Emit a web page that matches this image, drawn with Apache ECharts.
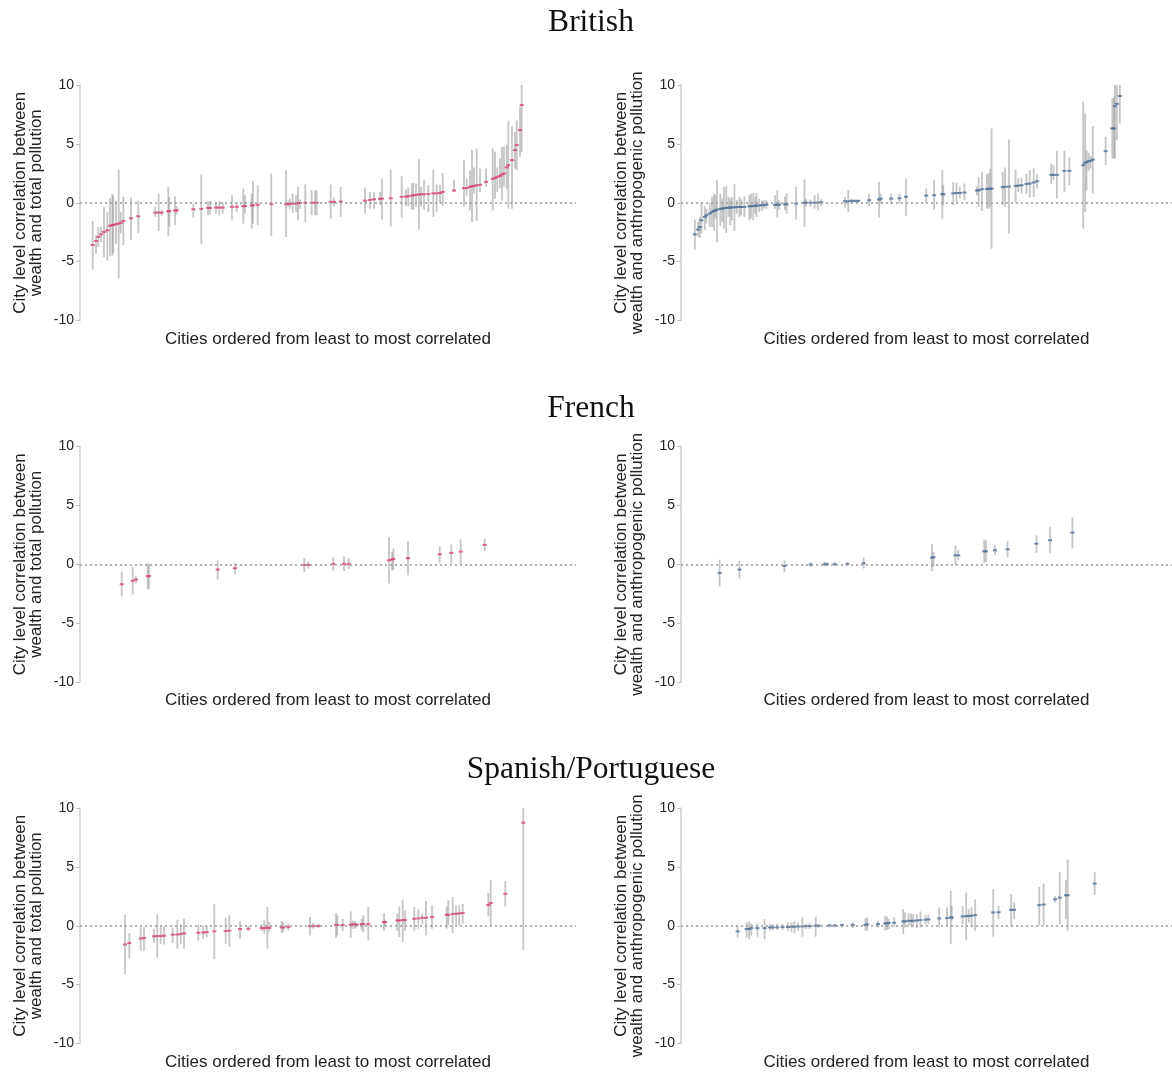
<!DOCTYPE html>
<html>
<head>
<meta charset="utf-8">
<script src="https://cdn.jsdelivr.net/npm/echarts@6/dist/echarts.min.js"></script>
<style>html,body{margin:0;padding:0;background:#fff;}#chart{width:1172px;height:1072px;}</style>
</head>
<body>
<div id="chart"></div>
<script>
// Each entry: [city position along the ordered axis, estimate, lower bound, upper bound]
const britishTotal = [
[12.7,-3.59,-5.66,-1.55],[16,-3.25,-4.33,-2.77],[18.3,-2.9,-3.76,-2.06],[21,-2.68,-3.33,-2.06],
[24,-2.48,-4.61,-0.35],[27.3,-2.34,-4.89,-0.78],[30,-1.95,-4.5,0.4],[32.3,-1.9,-4.5,0.75],
[33.3,-1.88,-4.3,0.6],[36,-1.82,-3.5,0.2],[38.7,-1.77,-6.45,2.82],[40.7,-1.72,-2.6,-0.8],
[43.3,-1.55,-3.6,0.5],[51,-1.32,-3.14,0.44],[58.3,-1.15,-2.57,0.2],[75.3,-0.84,-1.2,-0.35],
[78.7,-0.84,-2.4,0.78],[81.7,-0.84,-1.1,-0.6],[88.3,-0.72,-2.85,1.35],[89.3,-0.7,-2.05,0.5],
[95,-0.67,-1.9,0.55],[96.7,-0.64,-1.0,-0.3],[113.3,-0.55,-1.26,-0.07],[121.3,-0.52,-3.48,2.4],
[128,-0.44,-1.06,0.15],[130,-0.44,-0.98,0.15],[136,-0.41,-0.92,0.07],[139.3,-0.41,-1.06,0.15],
[142.7,-0.41,-0.92,0.07],[152,-0.35,-1.43,0.64],[156.7,-0.35,-0.78,0.07],[163.3,-0.3,-1.77,1.2],
[165,-0.28,-0.92,0.64],[171.7,-0.24,-2.2,0.78],[173,-0.21,-1.77,1.86],[177.7,-0.18,-1.91,1.49],
[191.3,-0.13,-2.85,2.48],[206,-0.13,-2.9,2.77],[208.3,-0.1,-0.35,0.2],[210,-0.1,-0.5,0.35],
[212.7,-0.07,-0.86,0.78],[216,-0.07,-0.78,0.64],[218,-0.02,-1.48,1.35],[220,-0.02,-0.5,0.3],
[225.3,0,-1.63,1.57],[231.7,0,-1.06,1.06],[235,0,-1.06,1.06],[236.7,0,-1.06,1.06],
[250.7,0.07,-1.35,1.55],[254,0.07,-0.3,0.44],[260.7,0.1,-1.2,1.35],[285,0.18,-0.92,1.29],
[290,0.24,-0.5,0.92],[294,0.3,-0.5,0.92],[300,0.33,-0.2,0.92],[302,0.35,-1.43,2.06],
[310.7,0.38,-2.0,2.82],[321.7,0.5,-1.26,2.28],[326,0.52,-0.3,1.15],[328.3,0.55,-0.3,1.3],
[331.7,0.61,-0.58,1.63],[333.3,0.63,-0.58,1.69],[336,0.67,-0.35,1.63],[339,0.7,-2.28,3.7],
[341,0.72,-0.35,1.35],[344,0.72,-0.58,1.91],[348.3,0.75,-0.78,1.49],[353.3,0.8,-1.2,2.82],
[356.7,0.8,-0.78,1.57],[360,0.83,0,1.5],[362.7,0.92,-0.3,2.54],[374,1.04,0.9,1.95],
[384,1.23,-0.35,3.6],[386.7,1.25,0.6,2.05],[390,1.35,-0.64,2.77],[392,1.4,-1.63,4.5],
[394,1.43,0.78,3.0],[396.7,1.49,-1.55,4.6],[400,1.52,0.92,2.9],[406,1.77,1.35,2.9],
[412.7,2.03,-0.64,4.6],[415,2.1,0.35,4.33],[417.3,2.2,0.92,3.0],[420,2.28,1.2,3.76],
[422,2.4,0.2,4.75],[424,2.48,1.35,4.75],[426.7,3.0,1.2,4.9],[428.3,3.19,-0.5,6.96],
[432,3.62,-0.5,6.5],[435,4.47,2.9,6.0],[436.7,4.9,2.75,7.0],[440,6.17,3.9,8.16],
[441.7,8.3,4.33,10]
];
const britishAnthro = [
[14,-2.68,-3.99,-1.43],[17.3,-2.28,-2.9,-1.63],[19,-2.06,-3.0,-1.2],[20.7,-1.49,-2.62,0.07],
[24,-1.2,-2.33,-0.3],[25.7,-1.06,-1.77,-0.5],[29,-0.92,-2.06,0],[31.3,-0.78,-2.06,0.5],
[33.3,-0.7,-2.35,0.78],[34.7,-0.65,-1.35,0.64],[36.3,-0.58,-3.33,1.91],[39.7,-0.52,-2.0,0.78],
[41.7,-0.5,-1.63,0.35],[43.3,-0.47,-2.2,1.35],[45.7,-0.44,-2.57,1.41],[48,-0.42,-1.2,0.5],
[49.7,-0.41,-1.91,0.35],[51.3,-0.4,-1.49,0.5],[54,-0.38,-2.4,1.57],[56.3,-0.37,-0.92,0.21],
[59,-0.36,-1.2,0.5],[60.7,-0.36,-1.06,0.27],[64,-0.35,-1.2,0.55],[69,-0.3,-1.49,0.64],
[70.7,-0.3,-1.35,0.78],[73,-0.27,-1.49,0.84],[75,-0.25,-0.92,0.5],[76.3,-0.25,-1.2,0.84],
[79,-0.24,-0.78,0.35],[81.7,-0.21,-0.7,0.21],[84,-0.18,-0.5,0.21],[86.3,-0.18,-0.5,0.21],
[95,-0.18,-0.5,0.64],[97.3,-0.16,-1.26,1.06],[99,-0.16,-0.58,0.21],[105,-0.13,-0.64,0.5],
[106.7,-0.13,-0.92,0.78],[116.3,-0.07,-1.43,1.35],[124.7,-0.01,-2.06,1.97],[126.3,0,-0.35,0.35],
[130.7,0,-0.35,0.27],[135,0.01,-0.5,0.64],[138.3,0.01,-0.64,0.78],[141.7,0.04,-0.3,0.35],
[165.7,0.13,-0.41,0.5],[169,0.13,-0.78,1.06],[172.3,0.16,-0.07,0.35],[175.7,0.16,0,0.27],
[179,0.16,0,0.27],[190,0.21,-0.35,0.78],[200,0.27,-1.26,1.77],[201.7,0.35,-0.07,0.78],
[212.3,0.35,-0.13,0.78],[220.7,0.38,-0.13,0.78],[227.3,0.5,-1.15,2.06],
[247.7,0.61,0,1.2],[255.7,0.64,-0.58,1.91],[264,0.72,-1.35,2.77],[265,0.72,-0.21,1.49],
[275,0.8,-0.21,1.77],[278.3,0.83,0.07,1.69],[281.7,0.83,0.35,1.35],[286.3,0.87,0.21,1.63],
[299,1.04,0.64,1.35],[300.7,1.06,-0.35,2.2],[304,1.15,-0.7,2.6],[309,1.17,-0.5,2.45],
[310.7,1.18,-0.5,2.52],[312.3,1.2,-0.35,2.88],[313.7,1.2,-3.9,6.31],[325,1.32,-0.21,2.62],
[327.3,1.35,-0.35,3.0],[331.3,1.38,-2.62,5.38],[338,1.43,0,2.82],[340.7,1.45,0.92,2.06],
[344,1.49,0.78,2.14],[349,1.6,0.78,2.48],[352.3,1.63,0.44,2.77],[356.3,1.72,0.5,2.91],
[359.7,1.83,1.2,2.42],[374,2.37,1.6,3.3],[376.3,2.37,1.92,3.19],[379.7,2.37,0.35,4.41],
[387.3,2.71,0.92,4.41],[392.3,2.71,1.49,3.84],[406.3,3.19,-2.2,8.58],[408.3,3.39,-0.78,7.59],
[409.7,3.45,1.06,4.47],[411.7,3.53,2.69,4.24],[413.7,3.56,2.9,4.0],[416,3.67,0.78,6.51],
[429,4.38,3.19,5.6],[435.7,6.31,3.76,8.87],[437.3,6.31,3.76,9.0],[438.3,8.2,3.76,10],
[440.3,8.4,5.3,10],[443.3,9.07,6.74,10]
];
const frenchTotal = [
[41.7,-1.7,-2.72,-0.65],[52.7,-1.41,-2.55,-0.23],[56,-1.3,-1.64,-0.96],[67.7,-1.02,-2.15,0.05],
[69,-1.0,-2.07,0.05],[137.7,-0.45,-1.3,0.34],[155,-0.34,-0.85,0.11],[224.3,-0.06,-0.65,0.51],
[228.3,-0.06,-0.37,0.25],[253.3,0.03,-0.51,0.57],[264,0.03,-0.57,0.68],[268.7,0.03,-0.4,0.54],
[309,0.34,-1.64,2.32],[312,0.4,-0.51,1.05],[313.3,0.45,-0.51,1.33],[328,0.51,-0.93,1.95],
[359.7,0.85,0.11,1.53],[371.3,0.96,0.06,1.67],[380.7,1.07,-0.03,2.12],[404.7,1.64,1.13,2.15]
];
const frenchAnthro = [
[39,-0.74,-1.87,0.4],[59,-0.45,-1.22,0.28],[104.5,-0.14,-0.65,0.34],[131,-0.03,-0.23,0.2],
[145.2,0,-0.17,0.2],[147.4,0,-0.14,0.14],[155.4,0,-0.17,0.2],[168.1,0.03,-0.11,0.17],
[184.5,0.08,-0.37,0.57],[253.5,0.57,-0.6,1.75],[255,0.6,-0.23,1.05],[277.2,0.76,-0.08,1.61],
[280.1,0.76,0.34,1.19],[306.3,1.1,0.11,2.09],[308.1,1.1,0.2,2.04],[317.2,1.19,0.76,1.61],
[329.9,1.27,0.57,1.95],[359,1.75,0.96,2.46],[372.8,2.04,0.96,3.17],[395.4,2.69,1.33,3.96]
];
const iberianTotal = [
[45,-1.59,-4.14,0.93],[49.3,-1.47,-2.8,-0.62],[60.7,-1.08,-2.1,-0.11],[64,-1.05,-2.1,-0.11],
[74,-0.9,-1.47,-0.25],[77.3,-0.88,-2.72,0.96],[80.7,-0.88,-1.53,-0.11],[84,-0.85,-1.59,-0.06],
[92.7,-0.76,-1.47,-0.17],[97.3,-0.74,-1.95,0.51],[100.7,-0.71,-1.53,0.11],[104,-0.65,-1.95,0.59],
[118.3,-0.59,-1.25,0.11],[123.3,-0.57,-1.10,0.03],[126.7,-0.54,-0.96,0.03],[134.3,-0.48,-2.82,1.83],
[145.7,-0.45,-1.53,0.68],[149.3,-0.42,-1.81,0.88],[160,-0.28,-1.10,0.40],[168.3,-0.25,-0.45,0.03],
[181.7,-0.2,-0.45,0.11],[184.3,-0.2,-0.68,0.45],[187.3,-0.17,-1.95,1.59],[189.3,-0.17,-0.54,0.31],
[201.7,-0.14,-0.62,0.40],[203.3,-0.14,-0.54,0.28],[208.3,-0.11,-0.40,0.17],[230,-0.03,-0.82,0.74],
[233.3,-0.03,-0.25,0.23],[238.3,-0.03,-0.17,0.17],[256,0.06,-1.02,1.08],[257.3,0.06,-0.82,0.88],
[262.7,0.06,-0.45,0.59],[270.7,0.08,-1.02,1.22],[272.7,0.11,-0.25,0.45],[275,0.11,-0.25,0.40],
[276.7,0.08,-0.11,0.23],[281.7,0.14,-0.40,0.59],[283.3,0.14,-0.54,0.88],[288.3,0.14,-1.25,1.59],
[304,0.31,-0.45,1.08],[305,0.31,0.03,0.51],[317.3,0.45,-0.45,1.02],[319.3,0.45,-0.96,1.64],
[322.7,0.48,-1.39,2.21],[325,0.48,-0.45,1.30],[334.3,0.59,-0.40,1.59],[338.3,0.62,-0.25,1.36],
[342.3,0.68,0.11,1.02],[346,0.68,-0.82,2.10],[352,0.74,-0.25,1.73],[366.7,0.93,-0.25,1.64],
[368.3,0.93,0.03,2.15],[372.7,0.99,-0.62,2.44],[376,1.02,0.03,1.73],[379.3,1.05,0.03,1.73],
[382.7,1.08,0.17,1.87],[408.3,1.76,0.79,2.78],[410.7,1.93,-0.06,3.91],[425.3,2.72,1.64,3.8],
[443.3,8.75,-2.04,10]
];
const iberianAnthro = [
[57.2,-0.48,-1.0,0],[66.3,-0.28,-1.0,0.28],[68.8,-0.28,-1.13,0.37],[71,-0.2,-0.85,0.2],
[77.2,-0.2,-0.93,0.2],[84.5,-0.2,-1.13,0.56],[89.9,-0.14,-0.42,0.14],[92.8,-0.14,-0.37,0.14],
[97.2,-0.14,-0.37,0.14],[102.6,-0.11,-0.37,0.14],[108.1,-0.11,-0.42,0.28],[111.7,-0.08,-0.56,0.28],
[114.6,-0.08,-0.65,0.37],[118.3,-0.06,-0.42,0.28],[122.6,-0.06,-0.93,0.7],[126.3,-0.03,-0.28,0.2],
[129.9,-0.03,-0.28,0.2],[136.1,0,-0.93,0.76],[139,0,-0.2,0.14],[149.9,0.03,-0.14,0.14],
[155.4,0.03,-0.14,0.14],[162.6,0.06,-0.14,0.14],[173.5,0.06,-0.2,0.28],[186.3,0.08,-0.42,0.65],
[188.1,0.11,-0.42,0.7],[199,0.14,-0.14,0.42],[206.3,0.2,-0.42,0.85],[208.1,0.2,-0.37,0.76],
[209.9,0.23,-0.28,0.56],[215.4,0.25,-0.14,0.7],[224.5,0.37,-0.7,1.41],[226.3,0.37,-0.14,1.13],
[229.9,0.42,0,1.04],[232.5,0.42,0,1.04],[234.6,0.42,-0.14,0.99],[238.3,0.45,-0.2,0.99],
[241.9,0.48,-0.14,1.21],[247,0.51,0.14,0.93],[249.9,0.54,0.14,0.93],[260.8,0.62,-0.14,1.55],
[268.8,0.65,0,1.55],[272.5,0.7,-1.55,2.96],[273.5,0.7,0.42,1.69],[284.5,0.79,0.14,1.69],
[288.1,0.82,-1.21,2.82],[290.6,0.82,0.28,1.41],[293.5,0.85,-0.14,1.55],[297.2,0.9,-0.42,2.25],
[315.4,1.13,-0.93,3.1],[320.8,1.15,0.56,1.69],[333.5,1.35,0,2.68],[336.5,1.35,0.56,1.97],
[361.9,1.75,0,3.3],[366.3,1.8,0,3.58],[377.9,2.25,1.97,2.54],[382.6,2.39,0.14,4.56],
[388.8,2.59,0.56,3.86],[390.6,2.59,-0.42,5.63],[417.9,3.58,2.62,4.56]
];
const groupTitles = ['British', 'French', 'Spanish/Portuguese'];
const yTicks = [-10, -5, 0, 5, 10];
const yNameTotal = 'City level correlation between\nwealth and total pollution';
const yNameAnthro = 'City level correlation between\nwealth and anthropogenic pollution';
const xName = 'Cities ordered from least to most correlated';

const RED = '#d8466f', BLUE = '#4f7196';
const panels = [
  {data: britishTotal, col: 0, row: 0},
  {data: britishAnthro, col: 1, row: 0},
  {data: frenchTotal, col: 0, row: 1},
  {data: frenchAnthro, col: 1, row: 1},
  {data: iberianTotal, col: 0, row: 2},
  {data: iberianAnthro, col: 1, row: 2}
];
const rowTop = [85, 446.5, 808], rowH = 235.5;
const colLeft = [80, 681], colW = [496, 496];
const titleTop = [3, 389, 750];

const grid = [], xAxis = [], yAxis = [], series = [];
panels.forEach((p, i) => {
  grid.push({left: colLeft[p.col], top: rowTop[p.row], width: colW[p.col], height: rowH});
  xAxis.push({
    gridIndex: i, type: 'value', min: 0, max: colW[p.col],
    axisLine: {show: false, onZero: false}, axisTick: {show: false}, axisLabel: {show: false}, splitLine: {show: false},
    name: xName, nameLocation: 'middle', nameGap: 10,
    nameTextStyle: {fontFamily: 'Liberation Sans', fontSize: 17, color: '#222', verticalAlign: 'top'}
  });
  yAxis.push({
    gridIndex: i, type: 'value', min: yTicks[0], max: yTicks[yTicks.length - 1], interval: 5,
    axisLine: {show: true, lineStyle: {color: '#cfcfcf', width: 1.5}},
    axisTick: {show: true, length: 4, lineStyle: {color: '#bdbdbd', width: 1}},
    axisLabel: {fontFamily: 'Liberation Sans', fontSize: 14, color: '#222', margin: 6},
    splitLine: {show: false},
    name: p.col === 0 ? yNameTotal : yNameAnthro, nameLocation: 'middle', nameGap: 36,
    nameTextStyle: {fontFamily: 'Liberation Sans', fontSize: 17, color: '#222', lineHeight: 16}
  });
  series.push({
    type: 'custom', xAxisIndex: i, yAxisIndex: i, data: p.data, z: 2,
    encode: {x: 0, y: [2, 3]},
    renderItem: function (params, api) {
      const a = api.coord([api.value(0), api.value(2)]);
      const b = api.coord([api.value(0), api.value(3)]);
      return {type: 'line', shape: {x1: a[0], y1: a[1], x2: b[0], y2: b[1]},
        style: {stroke: 'rgba(140,140,140,0.5)', lineWidth: 1.8}};
    },
    markLine: {silent: true, symbol: 'none', label: {show: false},
      lineStyle: {color: '#9a9a9a', type: [2, 3], width: 1.5},
      data: [{yAxis: 0}]}
  });
  series.push({
    type: 'scatter', xAxisIndex: i, yAxisIndex: i, z: 3,
    data: p.data.map(d => [d[0], d[1]]),
    symbol: 'rect', symbolSize: [4, 2],
    itemStyle: {color: p.col === 0 ? RED : BLUE}
  });
});

const chart = echarts.init(document.getElementById('chart'), null, {renderer: 'canvas'});
chart.setOption({
  animation: false,
  backgroundColor: '#fff',
  graphic: groupTitles.map((t, k) => ({type: 'text', x: 591, y: titleTop[k] + 4,
    style: {text: t, textAlign: 'center', textVerticalAlign: 'top',
      font: 'normal 31.5px "Liberation Serif"', fill: '#111'}})),
  grid: grid, xAxis: xAxis, yAxis: yAxis, series: series
});
</script>
</body>
</html>
